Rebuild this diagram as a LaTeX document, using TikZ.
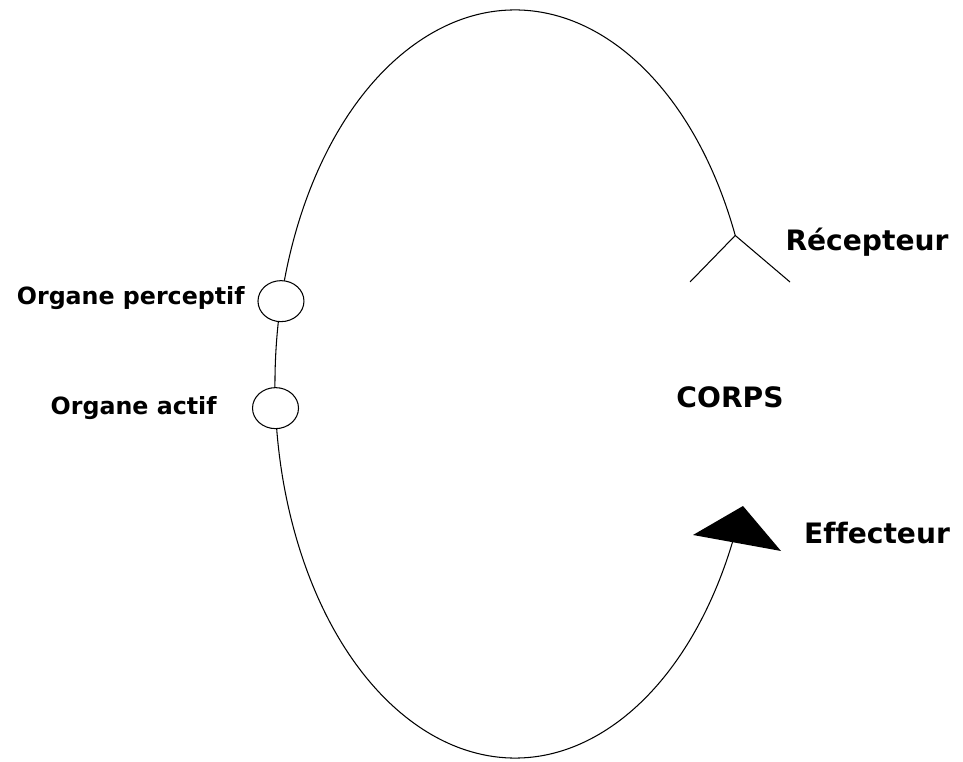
\documentclass[tikz,border=0pt]{standalone}
\usepackage{fontspec}
\setmainfont[Ligatures=NoCommon]{DejaVu Sans}
\usetikzlibrary{calc, shapes.geometric}

\begin{document}
\begin{tikzpicture}[x=0.02cm, y=0.02cm,
    curve/.style={line width=0.6pt},
    organ/.style={ellipse, draw, line width=0.6pt, fill=white, minimum width=0.92cm, minimum height=0.82cm, inner sep=0pt},
    organtext/.style={inner sep=0pt, font=\bfseries\fontsize{13.5}{16}\selectfont},
    bodytext/.style={inner sep=0pt, font=\bfseries\fontsize{16}{19}\selectfont}]

    \useasboundingbox (0,0) rectangle (963,761);

    % Body outline: open ellipse from the receptor round to the effector
    \coordinate (centre) at (515,377);
    \coordinate (recapex) at ($(centre)+(23.4:240 and 374)$);
    \coordinate (effbase) at ($(centre)+(-24.7:240 and 374)$);
    \draw[curve] (recapex) arc[start angle=23.4, end angle=335.3, x radius=240, y radius=374];

    % Receptor fork
    \coordinate (recleft) at (690,479);
    \coordinate (recright) at (790,479);
    \draw[curve] (recleft) -- (recapex) -- (recright);

    % Effector head
    \coordinate (effleft) at (693,226);
    \coordinate (efftop) at (743,255);
    \coordinate (effright) at (781,210);
    \fill (effleft) -- (efftop) -- (effright) -- cycle;

    % Organs on the outline
    \node[organ] (perc) at ($(centre)+(167.2:240 and 374)$) {};
    \node[organ] (actif) at ($(centre)+(183.7:240 and 374)$) {};

    % Labels
    \node[organtext, anchor=east] (perctext) at (245,463) {Organe perceptif};
    \node[organtext, anchor=east] (actiftext) at (217,353) {Organe actif};
    \node[bodytext] (recep) at (867,519) {Récepteur};
    \node[bodytext] (effec) at (877,228) {Effecteur};
    \node[bodytext] (corps) at (730,364) {CORPS};

\end{tikzpicture}
\end{document}
